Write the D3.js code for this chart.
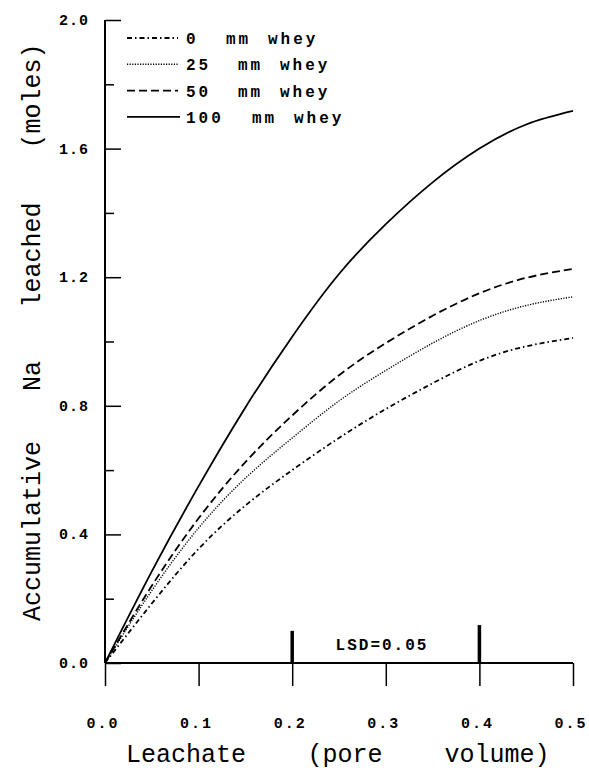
<!DOCTYPE html>
<html>
<head>
<meta charset="utf-8">
<script src="https://cdn.jsdelivr.net/npm/d3@7"></script>
<style>
  body { margin: 0; background: #fff; }
  text { font-family: "Liberation Mono", "DejaVu Sans Mono", monospace; fill: #000; }
</style>
</head>
<body>
<div id="chart"></div>
<script>
const width = 589;
const height = 772;

// data
const poreVolume = [0, 0.05, 0.1, 0.15, 0.2, 0.25, 0.3, 0.35, 0.4, 0.45, 0.5];
const whey0 = [0, 0.185, 0.355, 0.49, 0.60, 0.70, 0.79, 0.87, 0.94, 0.985, 1.011];
const whey25 = [0, 0.225, 0.42, 0.575, 0.70, 0.815, 0.91, 0.995, 1.065, 1.112, 1.139];
const whey50 = [0, 0.24, 0.45, 0.625, 0.77, 0.895, 0.995, 1.08, 1.15, 1.198, 1.226];
const whey100 = [0, 0.285, 0.55, 0.795, 1.015, 1.21, 1.365, 1.495, 1.60, 1.675, 1.717];
const seriesNames = ['0', '25', '50', '100'];
const seriesDash = ['5,3,1.5,3', '1.2,1.4', '8,4', null];
const lsdX = [0.2, 0.4];
const lsdTop = [0.10, 0.118];
const xTicks = [0, 0.1, 0.2, 0.3, 0.4, 0.5];
const yTicks = [0, 0.4, 0.8, 1.2, 1.6, 2.0];
const yMinorTicks = [0.2, 0.6, 1.0, 1.4, 1.8];

const series = [whey0, whey25, whey50, whey100];

const svg = d3.select('#chart').append('svg')
  .attr('width', width).attr('height', height);

const x = d3.scaleLinear().domain([0, 0.5]).range([105, 573]);
const y = d3.scaleLinear().domain([0, 2]).range([663, 20]);

// y axis, ticks pointing inward
svg.append('g')
  .attr('transform', `translate(${x(0)},0)`)
  .call(d3.axisRight(y).tickValues(yTicks).tickSize(16).tickFormat(''))
  .call(g => g.select('.domain').remove())
  .call(g => g.selectAll('line').attr('stroke-width', 1.5));
svg.append('g')
  .attr('transform', `translate(${x(0)},0)`)
  .call(d3.axisRight(y).tickValues(yMinorTicks).tickSize(9).tickFormat(''))
  .call(g => g.select('.domain').remove())
  .call(g => g.selectAll('line').attr('stroke-width', 1.5));
svg.append('line')
  .attr('x1', x(0)).attr('x2', x(0))
  .attr('y1', y(2)).attr('y2', y(0))
  .attr('stroke', '#000').attr('stroke-width', 2);

svg.selectAll('.ylab').data(yTicks).join('text')
  .attr('class', 'ylab')
  .attr('x', 89)
  .attr('y', d => y(d) + 5)
  .attr('text-anchor', 'end')
  .attr('font-size', 15)
  .attr('font-weight', 'bold')
  .attr('letter-spacing', 1)
  .text(d => d.toFixed(1));

// x axis, ticks pointing down
svg.append('g')
  .attr('transform', `translate(0,${y(0)})`)
  .call(d3.axisBottom(x).tickValues(xTicks).tickSize(23).tickFormat(''))
  .call(g => g.select('.domain').remove())
  .call(g => g.selectAll('line').attr('stroke-width', 1.5));
svg.append('line')
  .attr('x1', x(0)).attr('x2', x(0.5))
  .attr('y1', y(0)).attr('y2', y(0))
  .attr('stroke', '#000').attr('stroke-width', 2);

svg.selectAll('.xlab').data(xTicks).join('text')
  .attr('class', 'xlab')
  .attr('x', d => x(d) - 2)
  .attr('y', 728)
  .attr('text-anchor', 'middle')
  .attr('font-size', 15)
  .attr('font-weight', 'bold')
  .attr('letter-spacing', 2)
  .text(d => d.toFixed(1));

// axis titles
const xTitle = [['Leachate', 186], ['(pore', 345], ['volume)', 497]];
svg.selectAll('.xtitle').data(xTitle).join('text')
  .attr('x', d => d[1])
  .attr('y', 762)
  .attr('text-anchor', 'middle')
  .attr('font-size', 25)
  .text(d => d[0]);

const yTitle = [['Accumulative', 531], ['Na', 376], ['leached', 255], ['(moles)', 96]];
svg.selectAll('.ytitle').data(yTitle).join('text')
  .attr('transform', d => `translate(40,${d[1]}) rotate(-90)`)
  .attr('text-anchor', 'middle')
  .attr('font-size', 25)
  .text(d => d[0]);

// curves
const line = d3.line()
  .x((d, i) => x(poreVolume[i]))
  .y(d => y(d))
  .curve(d3.curveNatural);

svg.selectAll('.curve').data(series).join('path')
  .attr('d', line)
  .attr('fill', 'none')
  .attr('stroke', '#000')
  .attr('stroke-width', (d, i) => i === 1 ? 1.4 : 1.8)
  .attr('stroke-dasharray', (d, i) => seriesDash[i]);

// LSD bars
svg.selectAll('.lsd').data(lsdX).join('line')
  .attr('x1', d => x(d)).attr('x2', d => x(d))
  .attr('y1', y(0)).attr('y2', (d, i) => y(lsdTop[i]))
  .attr('stroke', '#000').attr('stroke-width', 3.5);
svg.append('text')
  .attr('x', 382).attr('y', 650)
  .attr('text-anchor', 'middle')
  .attr('font-size', 16)
  .attr('font-weight', 'bold')
  .attr('letter-spacing', 2)
  .text('LSD=0.05');

// legend
const legend = svg.append('g');
seriesNames.forEach((name, i) => {
  const ly = 38 + i * 26.3;
  legend.append('line')
    .attr('x1', 127).attr('x2', i === 3 ? 180 : 178)
    .attr('y1', ly).attr('y2', ly)
    .attr('stroke', '#000')
    .attr('stroke-width', i === 1 ? 1.4 : 1.8)
    .attr('stroke-dasharray', seriesDash[i]);
  const t = legend.append('text')
    .attr('y', ly + 6)
    .attr('font-size', 16)
    .attr('font-weight', 'bold')
    .attr('letter-spacing', 3);
  const mmX = [226, 238, 238, 252][i];
  t.append('tspan').attr('x', 186).text(name);
  t.append('tspan').attr('x', mmX).text('mm');
  t.append('tspan').attr('x', mmX + 42).text('whey');
});
</script>
</body>
</html>
